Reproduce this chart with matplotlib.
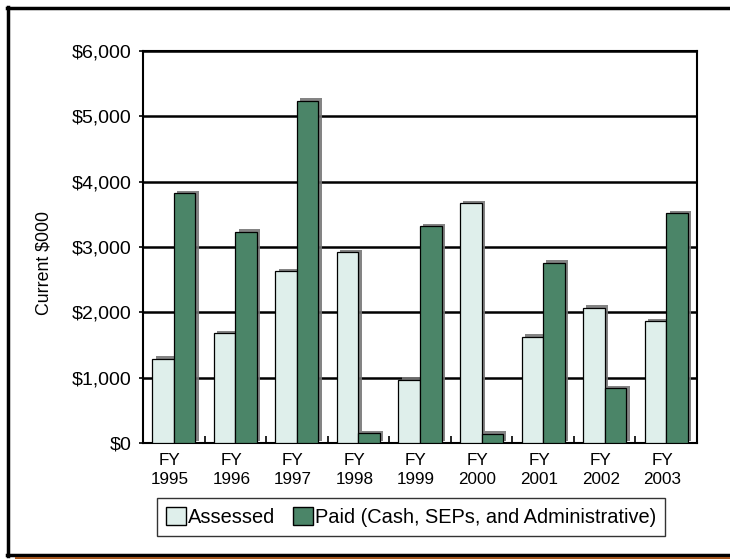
import matplotlib
matplotlib.use("Agg")
import matplotlib.pyplot as plt
import matplotlib.patheffects as pe
from matplotlib.lines import Line2D
from matplotlib.patches import Patch
from matplotlib.ticker import FuncFormatter, FixedLocator
import matplotlib.transforms as mtransforms
import numpy as np

plt.rcParams['font.family'] = ['Liberation Sans', 'DejaVu Sans']

years = ["1995", "1996", "1997", "1998", "1999", "2000", "2001", "2002", "2003"]
assessed = [1290, 1680, 2630, 2920, 970, 3670, 1630, 2070, 1860]
paid = [3820, 3230, 5240, 150, 3320, 140, 2760, 840, 3520]
series_names = ["Assessed", "Paid (Cash, SEPs, and Administrative)"]
y_label = "Current $000"

light = "#dfefeb"
dark = "#4b8568"

W, H = 730, 559
fig = plt.figure(figsize=(W / 100, H / 100), dpi=100)
ax = fig.add_axes([143 / W, 1 - 443 / H, (697 - 143) / W, (443 - 51) / H])

x = np.arange(len(years))
bw = 0.35
shadow = [pe.SimplePatchShadow(offset=(2.4, 1.8), shadow_rgbFace="#777777", alpha=0.9), pe.Normal()]
b1 = ax.bar(x - bw / 2, assessed, bw, color=light, edgecolor="black", linewidth=0.9, zorder=3)
b2 = ax.bar(x + bw / 2, paid, bw, color=dark, edgecolor="black", linewidth=0.9, zorder=3)
for b in list(b1) + list(b2):
    b.set_path_effects(shadow)

ax.set_xlim(-0.5, len(years) - 0.5)
ax.set_ylim(0, 6000)
ax.set_yticks(np.arange(0, 6001, 1000))
ax.yaxis.set_major_formatter(FuncFormatter(lambda v, p: "${:,.0f}".format(v)))
ax.yaxis.grid(True, color="black", linewidth=1.8, zorder=1)
ax.set_axisbelow(True)

ax.set_xticks(x)
ax.set_xticklabels(["FY\n" + y for y in years], fontsize=12.3, linespacing=1.3)
ax.tick_params(axis="x", which="major", length=0, pad=7.5)
ax.xaxis.set_minor_locator(FixedLocator(np.arange(0.5, len(years) - 0.5, 1)))
ax.tick_params(axis="x", which="minor", direction="in", length=5, width=1.2)
ax.tick_params(axis="y", direction="out", length=3, width=1.2, labelsize=14, pad=5)
offset = mtransforms.ScaledTranslation(-4 / 100, 0, fig.dpi_scale_trans)
for lab in ax.get_xticklabels():
    lab.set_transform(lab.get_transform() + offset)

for s in ax.spines.values():
    s.set_linewidth(1.5)
    s.set_color("black")

ax.set_ylabel(y_label, fontsize=12.8)
ax.yaxis.set_label_coords((52 - 143) / 554, (443 - 263) / 392)

handles = [Patch(facecolor=light, edgecolor="black", linewidth=1),
           Patch(facecolor=dark, edgecolor="black", linewidth=1)]
leg = fig.legend(handles, series_names, loc="center",
                 bbox_to_anchor=((150 + 672) / 2 / W, 1 - 517 / H),
                 ncol=2, fontsize=14.4, frameon=True, fancybox=False,
                 edgecolor="black", handlelength=1.0, handleheight=0.95,
                 handletextpad=0.1, columnspacing=0.9, borderpad=0.45)
leg.get_frame().set_linewidth(1.0)

# outer frame
fig.add_artist(Line2D([7 / W, 1], [1 - 7.5 / H, 1 - 7.5 / H], color="black", linewidth=2.5, transform=fig.transFigure))
fig.add_artist(Line2D([8 / W, 8 / W], [1 - 7 / H, 1 - 556 / H], color="black", linewidth=2.5, transform=fig.transFigure))
fig.add_artist(Line2D([7 / W, 1], [1 - 554.5 / H, 1 - 554.5 / H], color="black", linewidth=2.5, transform=fig.transFigure))
fig.add_artist(Line2D([16 / W, 1], [1 - 557.8 / H, 1 - 557.8 / H], color="#a4561d", linewidth=2.2, transform=fig.transFigure))

fig.savefig("out.png", dpi=100)
